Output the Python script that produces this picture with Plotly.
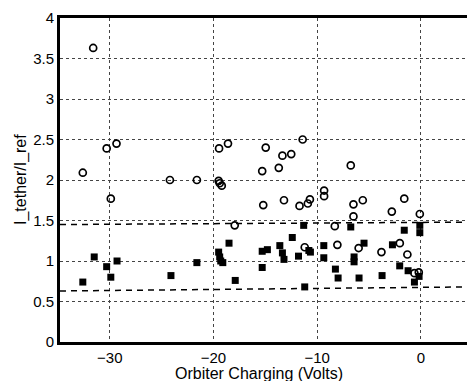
import plotly.graph_objects as go

# Open circles (total current ratio)
open_x = [-31.6, -29.35, -30.3, -32.6, -24.2, -29.9, -21.6, -19.5, -19.4, -19.2,
          -19.46, -18.6, -14.96, -13.35, -12.5, -11.4, -15.3, -13.7, -9.33, -9.33,
          -15.2, -13.2, -11.7, -10.9, -10.7, -17.95, -6.76, -6.5, -5.6, -1.6,
          -6.5, -2.8, -0.1, -8.3, -8.05, -6.0, -3.8, -2.03, -1.3, -0.62, -0.2, -11.2]
open_y = [3.63, 2.45, 2.39, 2.09, 2.0, 1.77, 2.0, 1.99, 1.96, 1.93,
          2.39, 2.45, 2.40, 2.30, 2.32, 2.50, 2.11, 2.15, 1.87, 1.80,
          1.69, 1.75, 1.68, 1.71, 1.76, 1.44, 2.18, 1.70, 1.75, 1.77,
          1.55, 1.61, 1.58, 1.43, 1.20, 1.16, 1.11, 1.22, 1.08, 0.85, 0.86, 1.17]

# Filled squares
fill_x = [-31.5, -29.3, -30.3, -29.9, -32.6, -24.1, -21.6, -19.5, -19.4, -19.3,
          -19.1, -18.5, -17.9, -15.3, -14.8, -15.3, -13.6, -13.35, -13.2, -12.4,
          -11.8, -10.8, -10.65, -11.3, -11.2, -9.36, -9.36, -6.76, -8.24, -7.98,
          -6.44, -6.44, -5.48, -5.96, -3.74, -2.74, -2.04, -1.23, -0.62, -0.17,
          -1.6, -0.1, -0.1]
fill_y = [1.05, 1.00, 0.93, 0.80, 0.74, 0.82, 0.98, 1.11, 1.05, 1.00,
          0.98, 1.22, 0.76, 1.12, 1.14, 0.92, 1.19, 1.10, 1.02, 1.29,
          1.06, 1.13, 1.11, 1.44, 0.68, 1.19, 1.04, 1.42, 0.90, 0.79,
          1.05, 0.99, 1.22, 0.79, 0.82, 1.20, 0.94, 0.88, 0.74, 0.81,
          1.38, 1.44, 1.35]

# Dashed bounds
bound_x = [-34.8, 4.45]
upper_y = [1.45, 1.48]
lower_y = [0.63, 0.68]

x_ticks = [-30, -20, -10, 0]
y_ticks = [0, 0.5, 1, 1.5, 2, 2.5, 3, 3.5, 4]
y_tick_text = ["0", "0.5", "1", "1.5", "2", "2.5", "3", "3.5", "4"]

fig = go.Figure()
for by in (upper_y, lower_y):
    fig.add_trace(go.Scatter(x=bound_x, y=by, mode="lines",
                             line=dict(color="black", width=1.5, dash="6px,5px"),
                             showlegend=False, hoverinfo="skip"))
fig.add_trace(go.Scatter(x=open_x, y=open_y, mode="markers",
                         marker=dict(symbol="circle-open", size=7, color="black",
                                     line=dict(width=1.7, color="black")),
                         showlegend=False))
fig.add_trace(go.Scatter(x=fill_x, y=fill_y, mode="markers",
                         marker=dict(symbol="square", size=7, color="black"),
                         showlegend=False))

tick_font = dict(family="Liberation Sans, Arial", size=15, color="black")
title_font = dict(family="Liberation Sans, Arial", size=16, color="black")
fig.update_layout(
    width=467, height=381,
    margin=dict(l=60, r=0, t=18, b=39, autoexpand=False),
    paper_bgcolor="white", plot_bgcolor="white",
    font=tick_font,
    xaxis=dict(range=[-34.8, 4.45], tickvals=x_ticks, ticks="", showline=True,
               linecolor="black", linewidth=3, mirror=True, automargin=False,
               showgrid=True, gridcolor="#444", gridwidth=1, griddash="dot",
               zeroline=False, tickfont=tick_font, ticklabelstandoff=0),
    yaxis=dict(range=[0, 4], tickvals=y_ticks, ticktext=y_tick_text, ticks="",
               showline=True, linecolor="black", linewidth=3, automargin=False,
               showgrid=True, gridcolor="#444", gridwidth=1, griddash="dot",
               zeroline=False, tickfont=tick_font, ticklabelstandoff=0),
    annotations=[
        dict(text="Orbiter Charging (Volts)", xref="paper", yref="paper",
             x=0.49, y=0, yshift=-31, xanchor="center", yanchor="middle",
             showarrow=False, font=title_font),
        dict(text="I_tether/I_ref", xref="paper", yref="paper",
             x=0, xshift=-39, y=0.5, textangle=-90, xanchor="center",
             yanchor="middle", showarrow=False, font=title_font),
    ],
)

fig.write_html("out.html", config={"displayModeBar": False},
               post_script="document.body.style.margin='0';document.body.style.overflow='hidden';")
